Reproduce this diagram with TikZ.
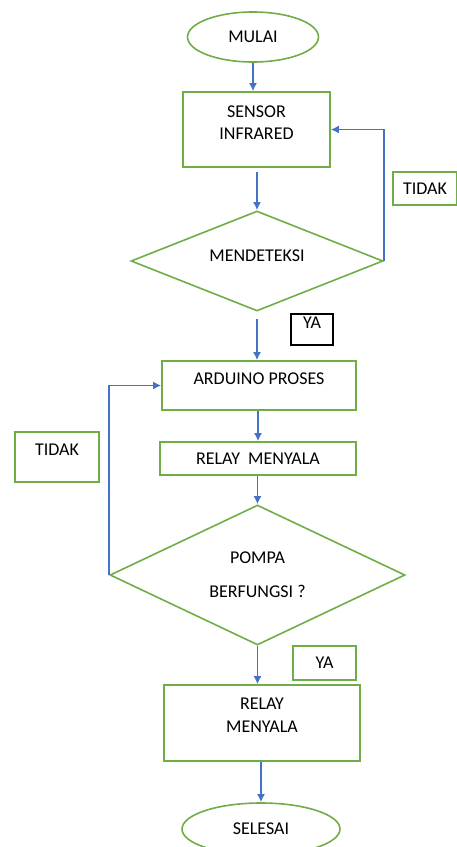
\documentclass[tikz,border=0pt]{standalone}
\usepackage{fontspec}
\setmainfont{Carlito}
\usepackage{xcolor}
\usepackage{tikz}
\usetikzlibrary{shapes.geometric,arrows.meta}
\definecolor{boxgreen}{RGB}{112,173,71}
\definecolor{flowblue}{RGB}{68,114,196}

\begin{document}
\begin{tikzpicture}[x=1pt,y=-1pt,font=\fontsize{18}{22}\selectfont,
						box/.style={draw=boxgreen, line width=1.6pt, inner sep=0pt, align=center, text height=13pt},
						terminal/.style={box, ellipse},
						decision/.style={box, diamond, aspect=2.5},
						tagbox/.style={box},
						tagdark/.style={draw=black, line width=1.3pt, inner sep=0pt, text height=13pt},
						flow/.style={draw=flowblue, line width=1.7pt, -{Latex[length=8pt,width=8pt]}}]
						\useasboundingbox (0,0) rectangle (457,847);
						% blocks
						\node[terminal, minimum width=131pt, minimum height=50pt, text depth=1.4pt] (mulai) at (253,37) {MULAI};
						\node[box, minimum width=147pt, minimum height=75pt, text height=35pt, text depth=14.4pt] (sensor) at (256.5,129.5) {SENSOR\\INFRARED};
						\node[decision, minimum width=252pt, minimum height=100pt, text depth=11.4pt] (detect) at (257,261) {MENDETEKSI};
						\node[box, minimum width=194pt, minimum height=49pt, text depth=14.4pt] (arduino) at (259,385.5) {ARDUINO PROSES};
						\node[box, minimum width=196pt, minimum height=33pt, text depth=1.4pt] (relay) at (258,458.5) {RELAY\ \ MENYALA};
						\node[decision, minimum width=295pt, minimum height=140pt, text height=47pt, text depth=1.4pt] (pompa) at (257.5,575) {POMPA\\[12pt]BERFUNGSI ?};
						\node[box, minimum width=196pt, minimum height=76pt, text height=36pt, text depth=16.4pt] (relayb) at (262,723) {RELAY\\[1pt]MENYALA};
						\node[terminal, minimum width=158pt, minimum height=52pt, text depth=1.4pt] (selesai) at (261,829) {SELESAI};
						% tags
						\node[tagbox, minimum width=64pt, minimum height=33pt, text depth=1.4pt] (tidaka) at (425,188.5) {TIDAK};
						\node[tagdark, minimum width=42pt, minimum height=31pt, text depth=14.4pt] (yaa) at (312,329.5) {YA};
						\node[tagbox, minimum width=84pt, minimum height=50pt, text depth=15.4pt] (tidakb) at (57,457) {TIDAK};
						\node[tagbox, minimum width=63pt, minimum height=34pt, text depth=1.4pt] (yab) at (324.5,663) {YA};
						% connectors
						\draw[flow] (mulai.south) -- (mulai.south |- sensor.north);
						\draw[flow, shorten <=4pt] (sensor.south -| detect.north) -- (detect.north);
						\draw[flow] (detect.east) |- (sensor.east);
						\draw[flow, shorten <=7pt] (detect.south) -- (detect.south |- arduino.north);
						\draw[flow] (arduino.south -| relay.north) -- (relay.north);
						\draw[flow] (relay.south -| pompa.north) -- (pompa.north);
						\draw[flow] (pompa.west) |- (arduino.west);
						\draw[flow] (pompa.south) -- (pompa.south |- relayb.north);
						\draw[flow] (relayb.south -| selesai.north) -- (selesai.north);
					\end{tikzpicture}
\end{document}
